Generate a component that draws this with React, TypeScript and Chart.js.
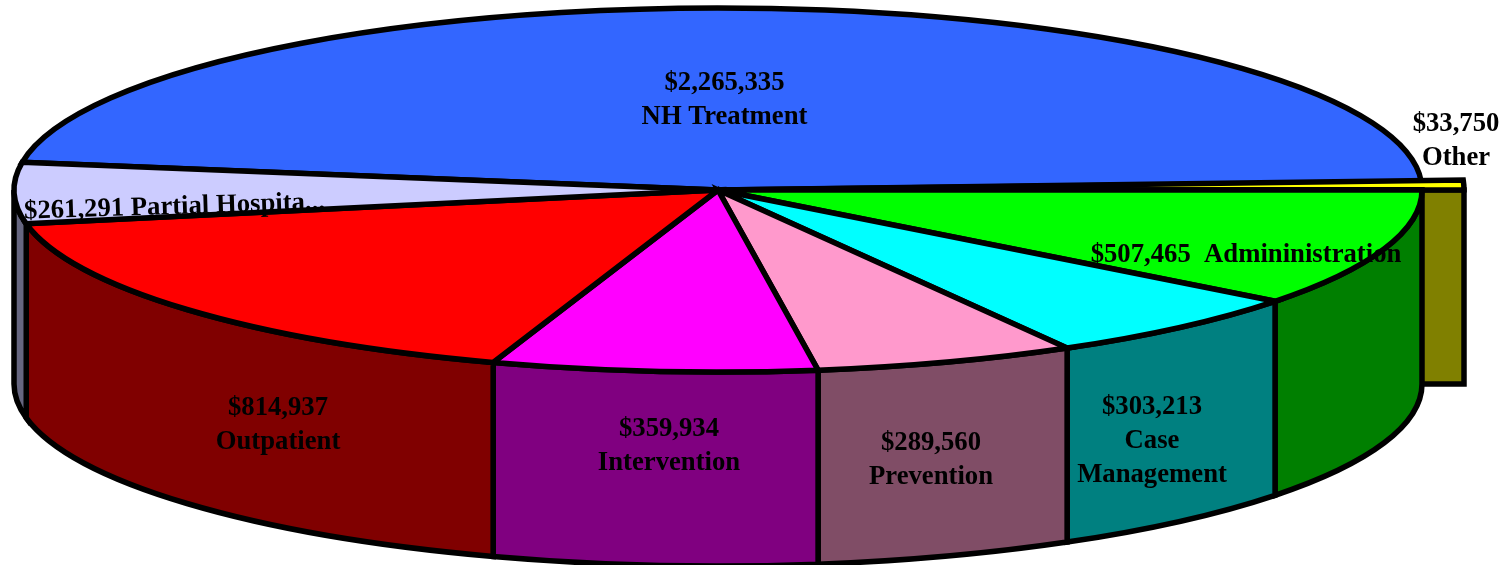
import React, { useEffect, useRef } from "react";
import { Chart, registerables } from "chart.js";

Chart.register(...registerables);

// Clockwise from the boundary with the Partial Hospitalization slice
const categories = ["NH Treatment", "Other", "Administration", "Case Management", "Prevention", "Intervention", "Outpatient", "Partial Hospitalization"];
const amounts = [2265335, 33750, 507465, 303213, 289560, 359934, 814937, 261291];
const topColors = ["#3366FF", "#FFFF00", "#00FF00", "#00FFFF", "#FF99CC", "#FF00FF", "#FF0000", "#CCCCFF"];
const wallColors = ["#1A3380", "#808000", "#007F00", "#008080", "#804D66", "#800080", "#800000", "#666680"];

const WIDTH = 1505;
const HEIGHT = 565;
const CX = 718;
const CY = 190;
const RX = 704;
const RY = 182;
const DEPTH = 194;
const EXPLODE = 42;
const EXPLODED_RY = 218;
const LINE = 5.5;
const EXPLODED_INDEX = 1;
const FONT = 'bold 26.7px "Liberation Serif", serif';

const labels = [
  { lines: ["$2,265,335", "NH Treatment"], x: 724.5, y: 83 },
  { lines: ["$33,750", "Other"], x: 1456, y: 124 },
  { lines: ["$507,465  Admininistration"], x: 1246, y: 255 },
  { lines: ["$303,213", "Case", "Management"], x: 1152, y: 407 },
  { lines: ["$289,560", "Prevention"], x: 931, y: 443 },
  { lines: ["$359,934", "Intervention"], x: 669, y: 429 },
  { lines: ["$814,937", "Outpatient"], x: 278, y: 408 },
  { lines: ["$261,291 Partial Hospita..."], x: 174.5, y: 207, tilt: -0.031 },
];

const pie3d = {
  id: "pie3d",
  beforeDatasetDraw(chart: any) {
    const ctx = chart.ctx;
    const arcs = chart.getDatasetMeta(0).data;
    ctx.save();
    ctx.lineWidth = LINE;
    ctx.strokeStyle = "#000";
    ctx.lineJoin = "miter";
    ctx.miterLimit = 4;

    // Exploded slice: its cut face sits behind the drum
    ctx.beginPath();
    ctx.rect(CX, CY, RX + EXPLODE, DEPTH);
    ctx.fillStyle = wallColors[EXPLODED_INDEX];
    ctx.fill();
    ctx.stroke();

    // Front walls of the drum
    arcs.forEach((arc: any, i: number) => {
      if (i === EXPLODED_INDEX) return;
      const a0 = Math.max(arc.startAngle, 0);
      const a1 = Math.min(arc.endAngle, Math.PI);
      if (a1 <= a0) return;
      ctx.beginPath();
      ctx.ellipse(CX, CY, RX, RY, 0, a0, a1);
      ctx.ellipse(CX, CY + DEPTH, RX, RY, 0, a1, a0, true);
      ctx.closePath();
      ctx.fillStyle = wallColors[i];
      ctx.fill();
      ctx.stroke();
    });

    // Top faces
    arcs.forEach((arc: any, i: number) => {
      const exploded = i === EXPLODED_INDEX;
      ctx.beginPath();
      ctx.moveTo(CX, CY);
      ctx.ellipse(CX, CY, exploded ? RX + EXPLODE : RX, exploded ? EXPLODED_RY : RY, 0, arc.startAngle, arc.endAngle);
      ctx.closePath();
      ctx.fillStyle = arc.options.backgroundColor;
      ctx.fill();
      ctx.stroke();
    });

    // Labels
    ctx.fillStyle = "#000";
    ctx.font = FONT;
    ctx.textAlign = "center";
    ctx.textBaseline = "middle";
    labels.forEach((label: any) => {
      ctx.save();
      ctx.translate(label.x, label.y);
      if (label.tilt) ctx.rotate(label.tilt);
      label.lines.forEach((line: string, k: number) => ctx.fillText(line, 0, k * 34));
      ctx.restore();
    });
    ctx.restore();
    return false;
  },
};

export default function App() {
  const ref = useRef<HTMLCanvasElement>(null);
  useEffect(() => {
    const chart = new Chart(ref.current as HTMLCanvasElement, {
      type: "pie",
      data: {
        labels: categories,
        datasets: [{ data: amounts, backgroundColor: topColors, borderColor: "#000", borderWidth: LINE }],
      },
      options: {
        animation: false,
        responsive: false,
        devicePixelRatio: 1,
        rotation: -81.25,
        plugins: { legend: { display: false }, tooltip: { enabled: false } },
      },
      plugins: [pie3d],
    } as any);
    return () => chart.destroy();
  }, []);
  return (
    <canvas
      ref={ref}
      width={WIDTH}
      height={HEIGHT}
      style={{ position: "fixed", left: 0, top: 0, width: WIDTH, height: HEIGHT, display: "block", background: "#fff" }}
    />
  );
}
